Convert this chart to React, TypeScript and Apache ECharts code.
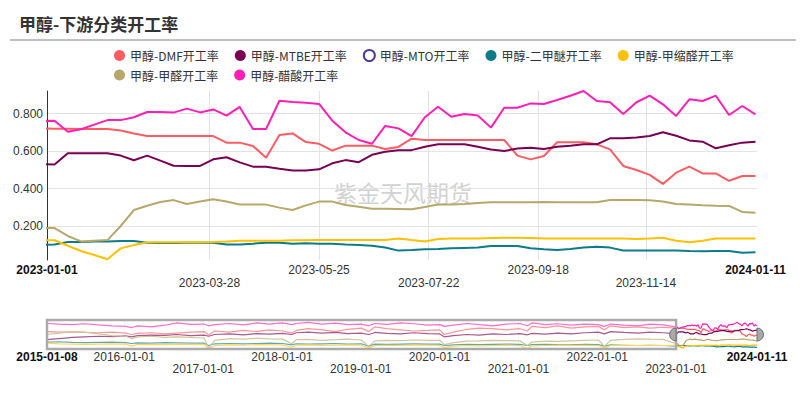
import React, { useEffect, useRef } from 'react';
import * as echarts from 'echarts';

const TITLE = '甲醇-下游分类开工率';
const WATERMARK = '紫金天风期货';

const NAME_DMF = '甲醇-DMF开工率';
const NAME_MTBE = '甲醇-MTBE开工率';
const NAME_MTO = '甲醇-MTO开工率';
const NAME_DME = '甲醇-二甲醚开工率';
const NAME_DMM = '甲醇-甲缩醛开工率';
const NAME_HCHO = '甲醇-甲醛开工率';
const NAME_HAC = '甲醇-醋酸开工率';

const LEGEND_ROW_1 = [NAME_DMF, NAME_MTBE, NAME_MTO, NAME_DME, NAME_DMM];
const LEGEND_ROW_2 = [NAME_HCHO, NAME_HAC];

const HIST_DATES = [
  '2015-01-08', '2015-03-05', '2015-05-07', '2015-07-02', '2015-09-03', '2015-11-05',
  '2016-01-07', '2016-02-04', '2016-03-03', '2016-05-05', '2016-07-07', '2016-09-01', '2016-11-03',
  '2017-01-05', '2017-01-26', '2017-02-23', '2017-05-04', '2017-07-06', '2017-09-07', '2017-11-02',
  '2018-01-04', '2018-02-15', '2018-03-08', '2018-05-03', '2018-07-05', '2018-09-06', '2018-11-01',
  '2019-01-03', '2019-02-07', '2019-03-07', '2019-05-02', '2019-07-04', '2019-09-05', '2019-11-07',
  '2020-01-02', '2020-01-23', '2020-03-05', '2020-05-07', '2020-07-02', '2020-09-03', '2020-11-05',
  '2021-01-07', '2021-02-11', '2021-03-04', '2021-05-06', '2021-07-01', '2021-09-02', '2021-11-04',
  '2022-01-06', '2022-02-03', '2022-03-03', '2022-05-05', '2022-07-07', '2022-09-01', '2022-11-03', '2022-12-29',
];

const RECENT_DATES = [
  '2023-01-05', '2023-01-12', '2023-01-19', '2023-01-26', '2023-02-02', '2023-02-09', '2023-02-16', '2023-02-23',
  '2023-03-02', '2023-03-09', '2023-03-16', '2023-03-23', '2023-03-30', '2023-04-06', '2023-04-13', '2023-04-20',
  '2023-04-27', '2023-05-04', '2023-05-11', '2023-05-18', '2023-05-25', '2023-06-01', '2023-06-08', '2023-06-15',
  '2023-06-22', '2023-06-29', '2023-07-06', '2023-07-13', '2023-07-20', '2023-07-27', '2023-08-03', '2023-08-10',
  '2023-08-17', '2023-08-24', '2023-08-31', '2023-09-07', '2023-09-14', '2023-09-21', '2023-09-28', '2023-10-05',
  '2023-10-12', '2023-10-19', '2023-10-26', '2023-11-02', '2023-11-09', '2023-11-16', '2023-11-23', '2023-11-30',
  '2023-12-07', '2023-12-14', '2023-12-21', '2023-12-28', '2024-01-04', '2024-01-11',
];

const DMF_HIST = [
  0.60, 0.58, 0.59, 0.57, 0.56, 0.58,
  0.55, 0.50, 0.54, 0.56, 0.52, 0.55, 0.58,
  0.60, 0.48, 0.62, 0.58, 0.64, 0.60, 0.66,
  0.62, 0.55, 0.64, 0.70, 0.66, 0.60, 0.68,
  0.72, 0.60, 0.76, 0.70, 0.66, 0.62, 0.64,
  0.66, 0.50, 0.58, 0.68, 0.72, 0.70, 0.66,
  0.70, 0.62, 0.78, 0.74, 0.80, 0.72, 0.76,
  0.78, 0.66, 0.80, 0.74, 0.76, 0.72, 0.75, 0.72,
];
const DMF_RECENT = [
  0.719, 0.719, 0.718, 0.718, 0.718, 0.710, 0.694, 0.680, 0.680, 0.680, 0.680, 0.680, 0.680, 0.645,
  0.645, 0.627, 0.565, 0.686, 0.694, 0.648, 0.639, 0.603, 0.629, 0.629, 0.629, 0.611, 0.622, 0.666,
  0.659, 0.659, 0.659, 0.659, 0.659, 0.659, 0.659, 0.576, 0.556, 0.574, 0.647, 0.647, 0.647, 0.636,
  0.609, 0.521, 0.499, 0.473, 0.425, 0.485, 0.517, 0.481, 0.481, 0.442, 0.467, 0.467,
];

const MTBE_HIST = [
  0.32, 0.36, 0.40, 0.42, 0.44, 0.43,
  0.45, 0.42, 0.46, 0.48, 0.47, 0.50, 0.46,
  0.48, 0.44, 0.50, 0.52, 0.49, 0.53, 0.51,
  0.54, 0.50, 0.56, 0.58, 0.55, 0.57, 0.53,
  0.55, 0.50, 0.57, 0.54, 0.52, 0.56, 0.53,
  0.52, 0.42, 0.46, 0.50, 0.48, 0.52, 0.50,
  0.53, 0.49, 0.54, 0.51, 0.55, 0.52, 0.56,
  0.58, 0.52, 0.60, 0.57, 0.55, 0.58, 0.56, 0.53,
];
const MTBE_RECENT = [
  0.528, 0.588, 0.588, 0.588, 0.588, 0.576, 0.551, 0.576, 0.549, 0.522, 0.521, 0.521, 0.556, 0.567,
  0.540, 0.517, 0.517, 0.506, 0.497, 0.497, 0.503, 0.535, 0.552, 0.541, 0.580, 0.596, 0.604, 0.605,
  0.623, 0.636, 0.636, 0.636, 0.623, 0.609, 0.600, 0.614, 0.618, 0.611, 0.623, 0.629, 0.636, 0.636,
  0.668, 0.668, 0.673, 0.680, 0.700, 0.682, 0.657, 0.650, 0.615, 0.631, 0.645, 0.650,
];

const MTO_HIST: number[] = [];
const MTO_RECENT: number[] = [];

const DME_HIST = [
  0.24, 0.25, 0.23, 0.22, 0.23, 0.24,
  0.22, 0.19, 0.21, 0.20, 0.22, 0.21, 0.20,
  0.20, 0.12, 0.18, 0.19, 0.18, 0.19, 0.20,
  0.19, 0.14, 0.18, 0.17, 0.18, 0.19, 0.17,
  0.18, 0.10, 0.17, 0.16, 0.17, 0.18, 0.17,
  0.17, 0.12, 0.14, 0.16, 0.15, 0.16, 0.17,
  0.16, 0.12, 0.15, 0.16, 0.15, 0.14, 0.16,
  0.15, 0.10, 0.14, 0.13, 0.12, 0.13, 0.12, 0.10,
];
const DME_RECENT = [
  0.103, 0.116, 0.116, 0.118, 0.118, 0.121, 0.121, 0.112, 0.111, 0.111, 0.112, 0.112, 0.112, 0.103,
  0.103, 0.107, 0.112, 0.112, 0.107, 0.109, 0.107, 0.107, 0.103, 0.100, 0.096, 0.087, 0.070, 0.073,
  0.077, 0.079, 0.082, 0.084, 0.086, 0.095, 0.095, 0.095, 0.082, 0.077, 0.073, 0.079, 0.086, 0.091,
  0.086, 0.071, 0.070, 0.070, 0.070, 0.071, 0.068, 0.066, 0.068, 0.068, 0.059, 0.061,
];

const DMM_HIST = [
  0.20, 0.18, 0.17, 0.16, 0.17, 0.18,
  0.17, 0.10, 0.15, 0.16, 0.15, 0.17, 0.16,
  0.15, 0.01, 0.12, 0.14, 0.13, 0.15, 0.14,
  0.14, 0.06, 0.13, 0.14, 0.12, 0.13, 0.14,
  0.13, 0.04, 0.12, 0.13, 0.12, 0.14, 0.13,
  0.12, 0.05, 0.10, 0.12, 0.11, 0.12, 0.13,
  0.12, 0.01, 0.11, 0.12, 0.13, 0.12, 0.13,
  0.12, 0.03, 0.12, 0.13, 0.12, 0.13, 0.12, 0.125,
];
const DMM_RECENT = [
  0.125, 0.096, 0.068, 0.047, 0.024, 0.082, 0.100, 0.114, 0.114, 0.114, 0.114, 0.114, 0.116, 0.119,
  0.123, 0.123, 0.123, 0.123, 0.125, 0.125, 0.126, 0.126, 0.126, 0.126, 0.126, 0.126, 0.134, 0.126,
  0.119, 0.132, 0.134, 0.135, 0.135, 0.137, 0.139, 0.139, 0.137, 0.135, 0.135, 0.135, 0.135, 0.135,
  0.135, 0.135, 0.132, 0.135, 0.139, 0.123, 0.114, 0.123, 0.134, 0.134, 0.134, 0.134,
];

const HCHO_HIST = [
  0.50, 0.55, 0.60, 0.58, 0.52, 0.46,
  0.44, 0.36, 0.42, 0.44, 0.40, 0.42, 0.40,
  0.38, 0.03, 0.30, 0.36, 0.34, 0.37, 0.35,
  0.34, 0.18, 0.32, 0.33, 0.30, 0.32, 0.34,
  0.31, 0.09, 0.28, 0.30, 0.29, 0.31, 0.30,
  0.30, 0.15, 0.22, 0.27, 0.28, 0.30, 0.29,
  0.28, 0.12, 0.24, 0.27, 0.26, 0.28, 0.30,
  0.31, 0.09, 0.30, 0.33, 0.35, 0.34, 0.33, 0.19,
];
const HCHO_RECENT = [
  0.190, 0.148, 0.119, 0.123, 0.126, 0.201, 0.286, 0.309, 0.329, 0.339, 0.318, 0.331, 0.343, 0.332,
  0.316, 0.315, 0.315, 0.299, 0.286, 0.311, 0.331, 0.331, 0.313, 0.304, 0.293, 0.293, 0.292, 0.290,
  0.302, 0.315, 0.316, 0.318, 0.324, 0.327, 0.327, 0.327, 0.327, 0.329, 0.327, 0.327, 0.327, 0.327,
  0.339, 0.339, 0.339, 0.338, 0.332, 0.318, 0.316, 0.311, 0.309, 0.308, 0.276, 0.272,
];

const HAC_HIST = [
  0.88, 0.86, 0.84, 0.87, 0.83, 0.80,
  0.78, 0.74, 0.80, 0.76, 0.82, 0.90, 0.85,
  0.86, 0.80, 0.84, 0.88, 0.83, 0.90, 0.86,
  0.90, 0.84, 0.88, 0.92, 0.86, 0.89, 0.84,
  0.86, 0.80, 0.88, 0.85, 0.90, 0.87, 0.82,
  0.84, 0.78, 0.82, 0.88, 0.84, 0.80, 0.86,
  0.88, 0.80, 0.90, 0.84, 0.87, 0.82, 0.86,
  0.84, 0.78, 0.86, 0.82, 0.80, 0.86, 0.83, 0.76,
];
const HAC_RECENT = [
  0.762, 0.703, 0.716, 0.741, 0.765, 0.765, 0.780, 0.808, 0.808, 0.805, 0.826, 0.806, 0.822, 0.789,
  0.835, 0.718, 0.718, 0.868, 0.861, 0.858, 0.851, 0.762, 0.700, 0.659, 0.639, 0.734, 0.721, 0.680,
  0.780, 0.836, 0.783, 0.797, 0.789, 0.725, 0.831, 0.831, 0.854, 0.851, 0.872, 0.895, 0.920, 0.867,
  0.860, 0.797, 0.860, 0.895, 0.849, 0.787, 0.876, 0.867, 0.895, 0.792, 0.840, 0.796,
];

const MAIN_TICKS = ['2023-01-01', '2023-03-28', '2023-05-25', '2023-07-22', '2023-09-18', '2023-11-14', '2024-01-11'];
const OVERVIEW_TICKS = [
  '2015-01-08', '2016-01-01', '2017-01-01', '2018-01-01', '2019-01-01',
  '2020-01-01', '2021-01-01', '2022-01-01', '2023-01-01', '2024-01-11',
];
const WINDOW_START = '2023-01-01';
const WINDOW_END = '2024-01-11';

const SERIES = [
  { name: NAME_DMF, color: '#fd5c62', hist: DMF_HIST, recent: DMF_RECENT },
  { name: NAME_MTBE, color: '#7a0052', hist: MTBE_HIST, recent: MTBE_RECENT },
  { name: NAME_MTO, color: '#4c3d9b', hist: MTO_HIST, recent: MTO_RECENT },
  { name: NAME_DME, color: '#0b7c88', hist: DME_HIST, recent: DME_RECENT },
  { name: NAME_DMM, color: '#ffc000', hist: DMM_HIST, recent: DMM_RECENT },
  { name: NAME_HCHO, color: '#b7a76b', hist: HCHO_HIST, recent: HCHO_RECENT },
  { name: NAME_HAC, color: '#ff1fb5', hist: HAC_HIST, recent: HAC_RECENT },
];

function ts(s: string): number {
  const [y, m, d] = s.split('-').map(Number);
  return Date.UTC(y, m - 1, d);
}
function fmtDate(v: number): string {
  const d = new Date(v);
  const p = (n: number) => (n < 10 ? '0' + n : '' + n);
  return `${d.getUTCFullYear()}-${p(d.getUTCMonth() + 1)}-${p(d.getUTCDate())}`;
}
function nearestIndex(list: number[], v: number): number {
  let best = 0;
  let bd = Infinity;
  list.forEach((t, i) => {
    const dd = Math.abs(t - v);
    if (dd < bd) { bd = dd; best = i; }
  });
  return best;
}

const MAIN_TS = MAIN_TICKS.map(ts);
const OVERVIEW_TS = OVERVIEW_TICKS.map(ts);

function buildData(hist: number[], recent: number[]) {
  const a: [number, number][] = [];
  hist.forEach((v, i) => a.push([ts(HIST_DATES[i]), v]));
  recent.forEach((v, i) => a.push([ts(RECENT_DATES[i]), v]));
  return a;
}

const LABEL_FONT = 'Liberation Sans, Arial, sans-serif';
const CJK_FONT = 'Noto Sans CJK SC, Microsoft YaHei, sans-serif';

function legendItem(name: string) {
  const s = SERIES.find((x) => x.name === name)!;
  if (name === NAME_MTO) {
    return { name, icon: 'circle', itemStyle: { color: '#fff', borderColor: s.color, borderWidth: 2 } };
  }
  return { name };
}

function makeLegend(names: string[], top: number) {
  return {
    left: 114,
    top,
    padding: 0,
    itemWidth: 11,
    itemHeight: 11,
    itemGap: 16,
    icon: 'circle',
    textStyle: { fontSize: 12, color: '#333', fontFamily: CJK_FONT },
    data: names.map(legendItem),
  };
}

export default function App() {
  const ref = useRef<HTMLDivElement>(null);
  useEffect(() => {
    if (!ref.current) return;
    const chart = echarts.init(ref.current, undefined, { renderer: 'svg' });

    const mainSeries = SERIES.map((s) => ({
      type: 'line',
      name: s.name,
      xAxisIndex: 0,
      yAxisIndex: 0,
      data: buildData(s.hist, s.recent),
      symbol: 'none',
      showSymbol: false,
      lineStyle: { width: 2, color: s.color },
      itemStyle: { color: s.color },
      z: 3,
    }));
    const miniSeries = SERIES.map((s) => ({
      type: 'line',
      name: s.name,
      xAxisIndex: 1,
      yAxisIndex: 1,
      data: buildData(s.hist, s.recent),
      symbol: 'none',
      showSymbol: false,
      silent: true,
      lineStyle: { width: 1.2, color: s.color },
      itemStyle: { color: s.color },
      z: 2,
    }));
    const overlay = {
      type: 'custom',
      xAxisIndex: 1,
      yAxisIndex: 1,
      silent: true,
      clip: false,
      z: 4,
      encode: { x: [0, 1, 2] },
      data: [[ts(OVERVIEW_TICKS[0]), ts(WINDOW_START), ts(WINDOW_END)]],
      renderItem: (params: any, api: any) => {
        const a = api.coord([api.value(0), 0]);
        const b = api.coord([api.value(1), 0]);
        const c = api.coord([api.value(2), 0]);
        const cs = params.coordSys;
        const cy = cs.y + cs.height / 2;
        const handleStyle = { fill: '#a9a9a9', stroke: '#6d6d6d', lineWidth: 1 };
        return {
          type: 'group',
          children: [
            {
              type: 'rect',
              shape: { x: a[0], y: cs.y, width: b[0] - a[0], height: cs.height },
              style: { fill: 'rgba(255,255,255,0.35)', stroke: '#ababab', lineWidth: 2.5 },
            },
            {
              type: 'sector',
              shape: { cx: b[0], cy, r: 6.5, r0: 0, startAngle: Math.PI / 2, endAngle: (Math.PI * 3) / 2, clockwise: true },
              style: handleStyle,
            },
            {
              type: 'sector',
              shape: { cx: c[0], cy, r: 6.5, r0: 0, startAngle: -Math.PI / 2, endAngle: Math.PI / 2, clockwise: true },
              style: handleStyle,
            },
          ],
        };
      },
    };

    const option: any = {
      animation: false,
      textStyle: { fontFamily: LABEL_FONT },
      title: {
        text: TITLE,
        left: 19,
        top: 15,
        padding: 0,
        textStyle: { fontSize: 17, fontWeight: 'bold', color: '#333', fontFamily: CJK_FONT },
      },
      legend: [makeLegend(LEGEND_ROW_1, 49), makeLegend(LEGEND_ROW_2, 69)],
      graphic: [
        { type: 'line', shape: { x1: 10, y1: 40, x2: 796, y2: 40 }, style: { stroke: '#ababab', lineWidth: 1.5 }, z: 0 },
        {
          type: 'text',
          x: 403,
          y: 192,
          z: 0,
          silent: true,
          style: { text: WATERMARK, fontSize: 23, fill: '#d2d2d2', fontFamily: CJK_FONT, align: 'center', verticalAlign: 'middle' },
        },
      ],
      grid: [
        { left: 47, right: 49, top: 91, bottom: 140, containLabel: false },
        { left: 47, right: 49, top: 320, height: 29, containLabel: false },
      ],
      xAxis: [
        {
          type: 'value',
          gridIndex: 0,
          scale: true,
          axisLine: { show: false },
          axisTick: { show: false, customValues: MAIN_TS },
          splitLine: { show: true, showMinLine: false, showMaxLine: false, lineStyle: { color: '#e3e3e3' } },
          axisLabel: {
            customValues: MAIN_TS,
            margin: 3,
            fontSize: 12,
            lineHeight: 13,
            color: '#333',
            formatter: (v: number) => {
              const i = nearestIndex(MAIN_TS, v);
              const s = fmtDate(MAIN_TS[i]);
              if (i === 0 || i === MAIN_TS.length - 1) return `{b|${s}}`;
              return i % 2 === 1 ? `\n{n|${s}}` : `{n|${s}}`;
            },
            rich: {
              n: { fontSize: 12, lineHeight: 13, color: '#333', fontFamily: LABEL_FONT },
              b: { fontSize: 12, lineHeight: 13, color: '#111', fontWeight: 'bold', fontFamily: LABEL_FONT },
            },
          },
        },
        {
          type: 'value',
          gridIndex: 1,
          min: 'dataMin',
          max: 'dataMax',
          axisLine: { show: false },
          axisTick: { show: false, customValues: OVERVIEW_TS },
          splitLine: { show: true, showMinLine: false, showMaxLine: false, lineStyle: { color: '#eeeeee' } },
          axisLabel: {
            customValues: OVERVIEW_TS,
            margin: 2,
            fontSize: 12,
            lineHeight: 12,
            color: '#333',
            formatter: (v: number) => {
              const i = nearestIndex(OVERVIEW_TS, v);
              const s = fmtDate(OVERVIEW_TS[i]);
              if (i === 0 || i === OVERVIEW_TS.length - 1) return `{b|${s}}`;
              return i % 2 === 1 ? `{n|${s}}` : `\n{n|${s}}`;
            },
            rich: {
              n: { fontSize: 12, lineHeight: 12, color: '#333', fontFamily: LABEL_FONT },
              b: { fontSize: 12, lineHeight: 12, color: '#111', fontWeight: 'bold', fontFamily: LABEL_FONT },
            },
          },
        },
      ],
      yAxis: [
        {
          type: 'value',
          gridIndex: 0,
          min: 0.02,
          max: 0.92,
          axisLine: { show: true, lineStyle: { color: '#333', width: 1 } },
          axisTick: { show: false },
          splitLine: { show: true, showMinLine: false, showMaxLine: false, lineStyle: { color: '#e3e3e3' } },
          axisLabel: {
            showMinLabel: false,
            showMaxLabel: false,
            margin: 4,
            fontSize: 12,
            color: '#333',
            formatter: (v: number) => v.toFixed(3),
          },
        },
        { type: 'value', gridIndex: 1, min: 0, max: 1, show: false },
      ],
      dataZoom: [
        {
          type: 'slider',
          xAxisIndex: 0,
          filterMode: 'none',
          startValue: ts(WINDOW_START),
          endValue: ts(WINDOW_END),
          left: 47,
          right: 49,
          top: 320,
          height: 29,
          showDataShadow: false,
          showDetail: false,
          brushSelect: false,
          moveHandleSize: 0,
          backgroundColor: 'rgba(0,0,0,0)',
          borderColor: 'rgba(0,0,0,0)',
          fillerColor: 'rgba(0,0,0,0)',
          handleIcon: 'circle',
          handleSize: '46%',
          handleStyle: { opacity: 0 },
          moveHandleStyle: { opacity: 0 },
          emphasis: { handleStyle: { opacity: 0 }, moveHandleStyle: { opacity: 0 } },
          dataBackground: { lineStyle: { opacity: 0 }, areaStyle: { opacity: 0 } },
          selectedDataBackground: { lineStyle: { opacity: 0 }, areaStyle: { opacity: 0 } },
          z: 6,
        },
      ],
      series: [...miniSeries, overlay, ...mainSeries],
    };

    chart.setOption(option);
    return () => chart.dispose();
  }, []);

  return (
    <div
      ref={ref}
      style={{ position: 'absolute', left: 0, top: 0, width: 806, height: 400, background: '#fff' }}
    />
  );
}
